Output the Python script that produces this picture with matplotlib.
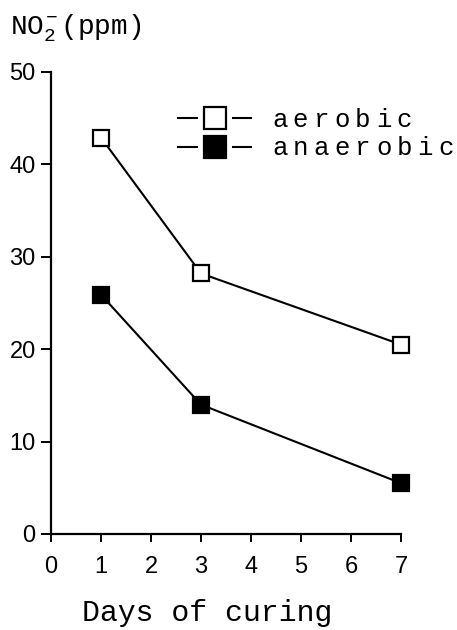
import matplotlib.pyplot as plt
from matplotlib.lines import Line2D

# nitrite content during curing
days = [1, 3, 7]
aerobic = [42.9, 28.2, 20.5]
anaerobic = [25.9, 14.0, 5.5]
x_ticks = [0, 1, 2, 3, 4, 5, 6, 7]
y_ticks = [0, 10, 20, 30, 40, 50]
series_names = ["aerobic", "anaerobic"]

MONO = "Liberation Mono"
SANS = "Liberation Sans"

plt.rcParams["mathtext.fontset"] = "custom"
plt.rcParams["mathtext.rm"] = MONO
plt.rcParams["mathtext.it"] = MONO


def spaced_text(ax, x, y, s, step, **kw):
    # typewriter style: one character at a time with a fixed advance
    for i, ch in enumerate(s):
        ax.text(x + i * step, y, ch, clip_on=False, **kw)


fig = plt.figure(figsize=(4.57, 6.30), dpi=100)
ax = fig.add_axes([51 / 457, 1 - 534 / 630, 350 / 457, 462 / 630])

style = dict(color="black", lw=1.5, markersize=12, markeredgewidth=1.6,
             marker="s", markeredgecolor="black", clip_on=False, zorder=3)
ax.plot(days, aerobic, markerfacecolor="white", **style)
ax.plot(days, anaerobic, markerfacecolor="black", **style)

ax.set_xlim(0, 7)
ax.set_ylim(0, 50)
ax.set_xticks(x_ticks)
ax.set_yticks(y_ticks)
for side in ["top", "right"]:
    ax.spines[side].set_visible(False)
for side in ["left", "bottom"]:
    ax.spines[side].set_linewidth(1.6)
ax.tick_params(axis="y", direction="out", length=7, width=1.4, pad=4,
               labelsize=17)
ax.tick_params(axis="x", direction="out", length=5.5, width=1.4, pad=10,
               labelsize=17)
for lbl in ax.get_xticklabels() + ax.get_yticklabels():
    lbl.set_fontfamily(SANS)

# legend drawn by hand: dash, box, dash, then the name
leg_rows = [(45.0, 44.05, "white"), (41.9, 41.0, "black")]
for (y_mark, y_text, face), name in zip(leg_rows, series_names):
    for x0, x1 in [(2.54, 2.92), (3.64, 4.0)]:
        ax.add_line(Line2D([x0, x1], [y_mark, y_mark], color="black",
                           lw=1.5, clip_on=False))
    ax.add_line(Line2D([3.28], [y_mark], marker="s", markersize=16,
                       markerfacecolor=face, markeredgecolor="black",
                       markeredgewidth=1.6, clip_on=False))
    spaced_text(ax, 4.42, y_text, name, 0.416, fontsize=18.5, family=MONO,
                va="baseline", ha="left")

fig.text(10 / 457, 1 - 35 / 630, r"NO$_2^-$(ppm)", fontsize=20,
         family=MONO, va="baseline", ha="left")
fig.text(82 / 457, 1 - 621 / 630, "Days of curing", fontsize=21.5,
         family=MONO, va="baseline", ha="left")

fig.savefig("out.png", dpi=100)
